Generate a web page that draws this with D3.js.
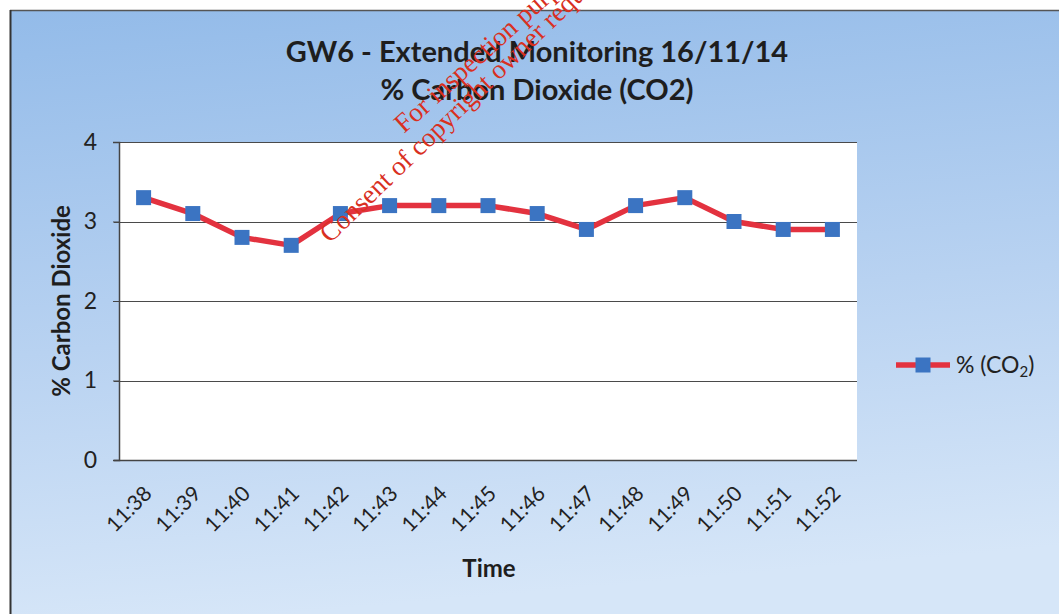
<!DOCTYPE html>
<html>
<head>
<meta charset="utf-8">
<script src="https://cdn.jsdelivr.net/npm/d3@7"></script>
<style>
  body { margin: 0; background: #fff; }
  svg { display: block; }
</style>
</head>
<body>
<script>
// data
const times = ["11:38", "11:39", "11:40", "11:41", "11:42", "11:43", "11:44", "11:45",
               "11:46", "11:47", "11:48", "11:49", "11:50", "11:51", "11:52"];
const co2 = [3.3, 3.1, 2.8, 2.7, 3.1, 3.2, 3.2, 3.2, 3.1, 2.9, 3.2, 3.3, 3.0, 2.9, 2.9];
const yTicks = [0, 1, 2, 3, 4];
const titleLines = ["GW6 - Extended Monitoring 16/11/14", "% Carbon Dioxide (CO2)"];

const W = 1059, H = 614;
const plot = { left: 119, right: 857, top: 142, bottom: 460 };
const font = "Lato, 'Open Sans', sans-serif";

const svg = d3.select("body").append("svg")
    .attr("width", W)
    .attr("height", H);

const defs = svg.append("defs");
const grad = defs.append("linearGradient")
    .attr("id", "bg")
    .attr("x1", 0).attr("y1", 0).attr("x2", 0.15).attr("y2", 1);
grad.append("stop").attr("offset", "0%").attr("stop-color", "#93bbe9");
grad.append("stop").attr("offset", "55%").attr("stop-color", "#b8d2f1");
grad.append("stop").attr("offset", "100%").attr("stop-color", "#d6e6f8");

// chart area background + border (only top and left edges show)
svg.append("rect")
    .attr("x", 10).attr("y", 10)
    .attr("width", W).attr("height", H)
    .attr("fill", "url(#bg)");
svg.append("line")
    .attr("x1", 10).attr("x2", W).attr("y1", 10.5).attr("y2", 10.5)
    .attr("stroke", "#555").attr("stroke-width", 1.5);
svg.append("line")
    .attr("x1", 10.5).attr("x2", 10.5).attr("y1", 10).attr("y2", H)
    .attr("stroke", "#333").attr("stroke-width", 2);

// plot area
svg.append("rect")
    .attr("x", plot.left).attr("y", plot.top)
    .attr("width", plot.right - plot.left)
    .attr("height", plot.bottom - plot.top)
    .attr("fill", "#fff");

const x = d3.scalePoint()
    .domain(times)
    .range([plot.left, plot.right])
    .padding(0.5);

const y = d3.scaleLinear()
    .domain([0, 4])
    .range([plot.bottom, plot.top]);

// gridlines
svg.append("g")
    .selectAll("line")
    .data(yTicks.filter(d => d > 0))
    .join("line")
    .attr("x1", plot.left - 5)
    .attr("x2", plot.right)
    .attr("y1", d => Math.round(y(d)) + 0.5)
    .attr("y2", d => Math.round(y(d)) + 0.5)
    .attr("stroke", "#4a4a4a")
    .attr("stroke-width", 1.2);

// y axis
const yAxis = svg.append("g")
    .attr("transform", `translate(${plot.left},0)`)
    .call(d3.axisLeft(y).tickValues(yTicks).tickFormat(d3.format("d")).tickSize(6).tickPadding(16));
yAxis.select(".domain").attr("stroke", "#444").attr("stroke-width", 1.5);
yAxis.selectAll(".tick line").attr("stroke", "#444");
yAxis.selectAll("text")
    .attr("font-family", font)
    .attr("font-size", 23)
    .attr("fill", "#222");

// x axis
const xAxis = svg.append("g")
    .attr("transform", `translate(0,${plot.bottom})`)
    .call(d3.axisBottom(x).tickSize(0).tickPadding(0));
xAxis.select(".domain")
    .attr("d", `M${plot.left - 5},0.5H${plot.right}`)
    .attr("stroke", "#444").attr("stroke-width", 1.5);
xAxis.selectAll("text")
    .attr("font-family", font)
    .attr("font-size", 21)
    .attr("fill", "#222")
    .attr("text-anchor", "end")
    .attr("dy", null)
    .attr("y", 0)
    .attr("transform", "translate(9,35) rotate(-45)");

// series line and markers
const line = d3.line()
    .x((d, i) => x(times[i]))
    .y(d => y(d));

svg.append("path")
    .datum(co2)
    .attr("d", line)
    .attr("fill", "none")
    .attr("stroke", "#e3323f")
    .attr("stroke-width", 5.5)
    .attr("stroke-linejoin", "round");

const ms = 15;
svg.append("g")
    .selectAll("rect")
    .data(co2)
    .join("rect")
    .attr("x", (d, i) => x(times[i]) - ms / 2)
    .attr("y", d => y(d) - ms / 2)
    .attr("width", ms)
    .attr("height", ms)
    .attr("fill", "#3b74c2");

// titles
svg.append("g")
    .selectAll("text")
    .data(titleLines)
    .join("text")
    .attr("x", 537)
    .attr("y", (d, i) => 62 + i * 38)
    .attr("text-anchor", "middle")
    .attr("font-family", font)
    .attr("font-weight", "bold")
    .attr("font-size", 29)
    .attr("fill", "#1e1e1e")
    .text(d => d);

svg.append("text")
    .attr("transform", `translate(70,${(plot.top + plot.bottom) / 2}) rotate(-90)`)
    .attr("text-anchor", "middle")
    .attr("font-family", font)
    .attr("font-weight", "bold")
    .attr("font-size", 24)
    .attr("fill", "#1e1e1e")
    .text("% Carbon Dioxide");

svg.append("text")
    .attr("x", 489)
    .attr("y", 577)
    .attr("text-anchor", "middle")
    .attr("font-family", font)
    .attr("font-weight", "bold")
    .attr("font-size", 24)
    .attr("fill", "#1e1e1e")
    .text("Time");

// legend
const lg = svg.append("g").attr("transform", "translate(896,365)");
lg.append("line")
    .attr("x1", 0).attr("x2", 54).attr("y1", 0).attr("y2", 0)
    .attr("stroke", "#e3323f").attr("stroke-width", 5.5);
lg.append("rect")
    .attr("x", 27 - ms / 2).attr("y", -ms / 2)
    .attr("width", ms).attr("height", ms)
    .attr("fill", "#3b74c2");
const lt = lg.append("text")
    .attr("x", 60).attr("y", 8)
    .attr("font-family", font)
    .attr("font-size", 23)
    .attr("fill", "#222");
lt.append("tspan").text("% (CO");
lt.append("tspan").attr("font-size", 15).attr("dy", 4).text("2");
lt.append("tspan").attr("dy", -4).text(")");

// watermark
const wm = svg.append("g")
    .attr("font-family", "'Liberation Serif', 'DejaVu Serif', serif")
    .attr("font-size", 27)
    .attr("fill", "#d9301f");
wm.append("text")
    .attr("transform", "translate(404,134) rotate(-42)")
    .text("For inspection purposes only.");
wm.append("text")
    .attr("transform", "translate(330,244) rotate(-44)")
    .text("Consent of copyright owner required for any other use.");
</script>
</body>
</html>
